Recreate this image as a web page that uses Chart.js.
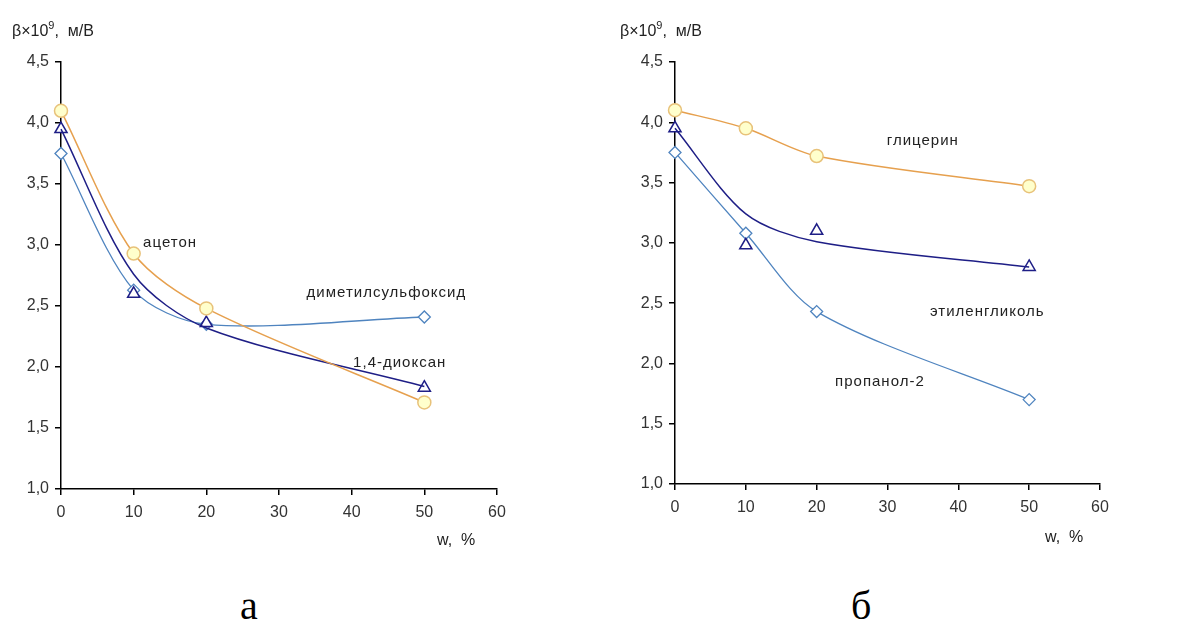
<!DOCTYPE html>
<html>
<head>
<meta charset="utf-8">
<script src="https://cdn.jsdelivr.net/npm/chart.js@4/dist/chart.umd.min.js"></script>
<style>
  body { margin: 0; background: #fff; width: 1185px; height: 626px; overflow: hidden; position: relative; }
  canvas { position: absolute; top: 0; }
  .cap { position: absolute; font-family: "Liberation Serif", "DejaVu Serif", serif; font-size: 40px; color: #000; }
</style>
</head>
<body>
<canvas id="chartA" width="590" height="560" style="left:0"></canvas>
<canvas id="chartB" width="595" height="560" style="left:590px"></canvas>
<div class="cap" style="left:240px; top:582px">а</div>
<div class="cap" style="left:851px; top:582px">б</div>
<script>
// x values (w, %)
const xVals = [0, 10, 20, 50];

// chart а
const acetone = [4.1, 2.93, 2.48, 1.71];
const dioxanePts = [3.95, 2.6, 2.36, 1.83];
const dioxaneLine = [3.95, 2.76, 2.32, 1.84];
const dmso = [3.75, 2.63, 2.35, 2.41];

// chart б
const glycerol = [4.1, 3.95, 3.72, 3.47];
const glycolPts = [3.95, 2.98, 3.1, 2.8];
const glycolLine = [3.95, 3.24, 3.01, 2.8];
const propanol = [3.75, 3.08, 2.43, 1.7];

// curve labels: [text, x, y] in data units
const labelsA = [['ацетон', 11.3, 3.02], ['диметилсульфоксид', 33.8, 2.61], ['1,4-диоксан', 40.2, 2.03]];
const labelsB = [['глицерин', 29.9, 3.85], ['этиленгликоль', 36.0, 2.43], ['пропанол-2', 22.6, 1.85]];

const ORANGE = '#e6a04e';
const NAVY = '#1e1e86';
const LIGHTBLUE = '#4f84bf';
const TENSION = 0.3;

const pts = (ys) => ys.map((y, i) => ({ x: xVals[i], y: y }));

function circleSet(ys) {
  return { data: pts(ys), clip: false, borderColor: ORANGE, borderWidth: 1.5, tension: TENSION,
    pointStyle: 'circle', pointRadius: 6.5, pointBorderColor: '#e8c27a', pointBackgroundColor: '#ffffcc', pointBorderWidth: 1.5 };
}
function triangleMarks(ys) {
  return { data: pts(ys), clip: false, showLine: false, pointStyle: 'triangle', pointRadius: 7,
    pointBorderColor: NAVY, pointBackgroundColor: '#fff', pointBorderWidth: 1.5 };
}
function navyLine(ys) {
  return { data: pts(ys), clip: false, borderColor: NAVY, borderWidth: 1.5, tension: TENSION, pointRadius: 0 };
}
function diamondSet(ys) {
  return { data: pts(ys), clip: false, borderColor: LIGHTBLUE, borderWidth: 1.3, tension: TENSION,
    pointStyle: 'rectRot', pointRadius: 6, pointBorderColor: LIGHTBLUE, pointBackgroundColor: '#fff', pointBorderWidth: 1.3 };
}

const textPlugin = {
  id: 'texts',
  afterDraw(chart, args, opts) {
    const ctx = chart.ctx;
    const xs = chart.scales.x, ys = chart.scales.y;
    ctx.save();
    ctx.fillStyle = '#222';
    ctx.font = '15px "Liberation Sans", Arial, sans-serif';
    ctx.letterSpacing = '1px';
    ctx.textBaseline = 'middle';
    ctx.textAlign = 'left';
    opts.labels.forEach(l => ctx.fillText(l[0], xs.getPixelForValue(l[1]), ys.getPixelForValue(l[2])));
    ctx.letterSpacing = '0px';
    // y title
    ctx.font = '16px "Liberation Sans", Arial, sans-serif';
    ctx.textBaseline = 'alphabetic';
    let x = opts.yTitleX, y = 36;
    const p1 = 'β×10';
    ctx.fillText(p1, x, y);
    x += ctx.measureText(p1).width;
    ctx.font = '11px "Liberation Sans", Arial, sans-serif';
    ctx.fillText('9', x, y - 7);
    x += ctx.measureText('9').width;
    ctx.font = '16px "Liberation Sans", Arial, sans-serif';
    ctx.fillText(',  м/В', x, y);
    // x title
    ctx.fillText('w,  %', opts.xTitleX, opts.xTitleY);
    ctx.restore();
  }
};

function makeChart(id, datasets, dims, textOpts) {
  new Chart(document.getElementById(id), {
    type: 'line',
    data: { datasets: datasets },
    plugins: [textPlugin],
    options: {
      responsive: false,
      animation: false,
      devicePixelRatio: 1,
      layout: { padding: { left: 0, top: 62, right: dims.padRight, bottom: 0 } },
      plugins: { legend: { display: false }, tooltip: { enabled: false }, texts: textOpts },
      scales: {
        x: {
          type: 'linear', min: 0, max: 60,
          afterFit: (s) => { s.height = dims.xHeight; },
          grid: { drawOnChartArea: false, color: '#000', tickLength: 6, lineWidth: 1.5 },
          border: { color: '#000', width: 1.5 },
          ticks: { stepSize: 10, color: '#333', padding: 8, font: { family: '"Liberation Sans", Arial, sans-serif', size: 16 } }
        },
        y: {
          min: 1, max: 4.5,
          afterFit: (s) => { s.width = dims.yWidth; },
          grid: { drawOnChartArea: false, color: '#000', tickLength: 6, lineWidth: 1.5 },
          border: { color: '#000', width: 1.5 },
          ticks: { stepSize: 0.5, color: '#333', padding: 6, font: { family: '"Liberation Sans", Arial, sans-serif', size: 16 },
            callback: (v) => v.toFixed(1).replace('.', ',') }
        }
      }
    }
  });
}

makeChart('chartA',
  [circleSet(acetone), navyLine(dioxaneLine), triangleMarks(dioxanePts), diamondSet(dmso)],
  { padRight: 93, xHeight: 71, yWidth: 61 },
  { labels: labelsA, yTitleX: 12, xTitleX: 437, xTitleY: 545 });

makeChart('chartB',
  [circleSet(glycerol), navyLine(glycolLine), triangleMarks(glycolPts), diamondSet(propanol)],
  { padRight: 85, xHeight: 76, yWidth: 85 },
  { labels: labelsB, yTitleX: 30, xTitleX: 455, xTitleY: 542 });
</script>
</body>
</html>
